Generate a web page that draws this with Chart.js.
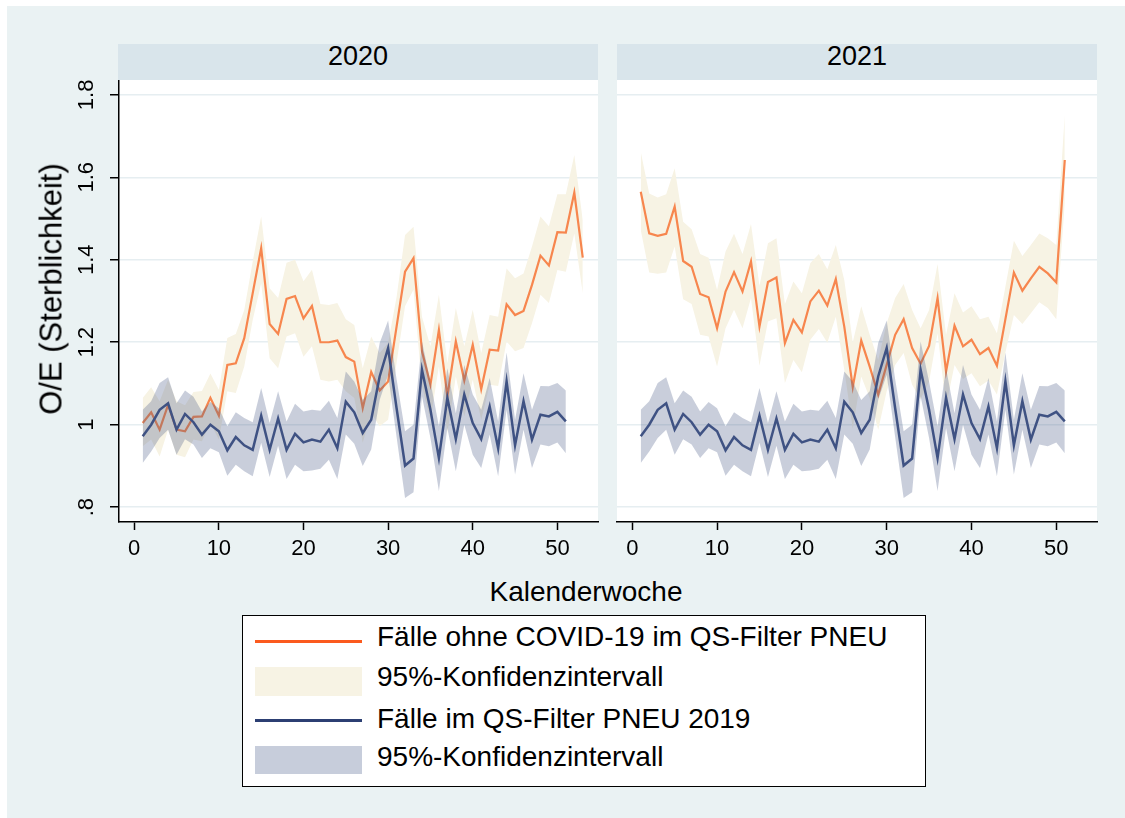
<!DOCTYPE html>
<html>
<head>
<meta charset="utf-8">
<script src="https://cdn.jsdelivr.net/npm/chart.js@4.4.0/dist/chart.umd.min.js"></script>
<style>
  html, body { margin: 0; padding: 0; background: #fff; }
  body { width: 1125px; height: 818px; position: relative; overflow: hidden;
         font-family: "Liberation Sans", Arial, sans-serif; color: #000; }
  #bg { position: absolute; left: 7px; top: 6px; right: 0; bottom: 0; background: #eaf2f3; }
  .strip { position: absolute; top: 44px; height: 36px; width: 480px; background: #d9e5eb; }
  .lbl { position: absolute; white-space: nowrap; line-height: 0; }
  .c { transform: translateX(-50%); }
  canvas.panel { position: absolute; top: 80px; }
  #legend { position: absolute; left: 242px; top: 615px; width: 684px; height: 172px;
            box-sizing: border-box; background: #fff; border: 1.5px solid #000; }
  .key { position: absolute; left: 255px; width: 107px; }
  .ytitle { position: absolute; white-space: nowrap; line-height: 1;
            transform: translate(-50%, -50%) rotate(-90deg); }
</style>
</head>
<body>
<div id="bg"></div>

<div class="strip" style="left:118px"></div>
<div class="strip" style="left:617px"></div>
<div class="lbl c" style="left:358px; top:56px; font-size:27px">2020</div>
<div class="lbl c" style="left:857px; top:56px; font-size:27px">2021</div>

<canvas id="p2020" class="panel" width="600" height="480" style="left:0px"></canvas>
<canvas id="p2021" class="panel" width="525" height="480" style="left:600px"></canvas>

<div class="ytitle" style="left:51px; top:289px; font-size:31px">O/E (Sterblichkeit)</div>
<div class="lbl c" style="left:586px; top:592px; font-size:28px">Kalenderwoche</div>

<div id="legend"></div>
<div class="key" style="top:640px; height:3px; background:#fb5a1e"></div>
<div class="key" style="top:667px; height:29px; background:#f7f3e4"></div>
<div class="key" style="top:719px; height:3px; background:#2c3f73"></div>
<div class="key" style="top:746px; height:28px; background:#c7cddb"></div>
<div class="lbl" style="left:377px; top:637px; font-size:28px">Fälle ohne COVID-19 im QS-Filter PNEU</div>
<div class="lbl" style="left:377px; top:677px; font-size:28px">95%-Konfidenzintervall</div>
<div class="lbl" style="left:377px; top:719px; font-size:28px">Fälle im QS-Filter PNEU 2019</div>
<div class="lbl" style="left:377px; top:757px; font-size:28px">95%-Konfidenzintervall</div>

<script>
// O/E per Kalenderwoche, Fälle ohne COVID-19, 2020 (KW 1-53)
const oe2020 = [1.004, 1.030, 0.988, 1.048, 0.988, 0.984, 1.019, 1.020, 1.065, 1.022,
  1.145, 1.149, 1.210, 1.319, 1.428, 1.244, 1.220, 1.305, 1.312, 1.258,
  1.288, 1.200, 1.200, 1.204, 1.164, 1.153, 1.040, 1.128, 1.083, 1.105,
  1.238, 1.371, 1.404, 1.178, 1.097, 1.230, 1.069, 1.202, 1.107, 1.194,
  1.086, 1.182, 1.180, 1.292, 1.266, 1.276, 1.339, 1.410, 1.386, 1.467,
  1.466, 1.563, 1.405];
const hi2020 = [1.065, 1.091, 1.057, 1.109, 1.057, 1.047, 1.079, 1.082, 1.124, 1.085,
  1.210, 1.220, 1.278, 1.396, 1.505, 1.331, 1.307, 1.393, 1.400, 1.348,
  1.376, 1.293, 1.290, 1.295, 1.256, 1.242, 1.137, 1.214, 1.174, 1.198,
  1.310, 1.460, 1.480, 1.262, 1.190, 1.315, 1.149, 1.283, 1.190, 1.279,
  1.174, 1.266, 1.262, 1.379, 1.355, 1.367, 1.432, 1.505, 1.481, 1.559,
  1.559, 1.654, 1.496];
const lo2020 = [0.948, 0.964, 0.923, 0.988, 0.927, 0.921, 0.964, 0.960, 1.004, 0.964,
  1.081, 1.077, 1.141, 1.254, 1.343, 1.161, 1.137, 1.214, 1.222, 1.165,
  1.190, 1.109, 1.105, 1.109, 1.081, 1.065, 0.956, 1.028, 0.996, 1.012,
  1.150, 1.287, 1.327, 1.093, 1.012, 1.141, 0.980, 1.117, 1.020, 1.109,
  1.012, 1.097, 1.094, 1.202, 1.178, 1.186, 1.246, 1.315, 1.295, 1.375,
  1.371, 1.464, 1.319];

// 2021 (KW 1-51)
const oe2021 = [1.565, 1.464, 1.458, 1.463, 1.529, 1.397, 1.383, 1.317, 1.309, 1.234,
  1.323, 1.370, 1.323, 1.396, 1.238, 1.346, 1.357, 1.198, 1.254, 1.224,
  1.299, 1.325, 1.289, 1.353, 1.238, 1.091, 1.204, 1.141, 1.073, 1.145,
  1.218, 1.256, 1.186, 1.148, 1.191, 1.307, 1.129, 1.240, 1.190, 1.206,
  1.171, 1.186, 1.143, 1.256, 1.369, 1.325, 1.355, 1.383, 1.367, 1.345,
  1.642];
const hi2021 = [1.662, 1.561, 1.551, 1.559, 1.622, 1.492, 1.474, 1.414, 1.405, 1.327,
  1.420, 1.463, 1.414, 1.487, 1.337, 1.440, 1.452, 1.293, 1.347, 1.319,
  1.392, 1.414, 1.377, 1.436, 1.351, 1.200, 1.287, 1.218, 1.157, 1.246,
  1.307, 1.341, 1.278, 1.234, 1.278, 1.390, 1.218, 1.319, 1.272, 1.287,
  1.256, 1.262, 1.222, 1.335, 1.446, 1.409, 1.436, 1.464, 1.452, 1.436,
  1.751];
const lo2021 = [1.472, 1.369, 1.366, 1.369, 1.432, 1.304, 1.293, 1.218, 1.214, 1.141,
  1.234, 1.279, 1.234, 1.307, 1.143, 1.250, 1.258, 1.101, 1.157, 1.127,
  1.206, 1.232, 1.199, 1.262, 1.133, 0.990, 1.117, 1.065, 0.988, 1.081,
  1.145, 1.174, 1.097, 1.062, 1.105, 1.222, 1.044, 1.145, 1.111, 1.125,
  1.093, 1.107, 1.073, 1.175, 1.266, 1.244, 1.270, 1.297, 1.283, 1.256,
  1.537];

// Vergleich: Fälle im QS-Filter PNEU 2019 (KW 1-51), in beiden Panels
const oe2019 = [0.972, 1.000, 1.036, 1.052, 0.988, 1.026, 1.006, 0.976, 1.000, 0.984,
  0.938, 0.970, 0.950, 0.939, 1.022, 0.939, 1.015, 0.939, 0.978, 0.957,
  0.964, 0.959, 0.988, 0.943, 1.056, 1.030, 0.980, 1.012, 1.117, 1.186,
  1.040, 0.901, 0.918, 1.133, 1.036, 0.919, 1.065, 0.965, 1.073, 1.004,
  0.965, 1.044, 0.943, 1.105, 0.950, 1.057, 0.964, 1.024, 1.020, 1.031,
  1.008];
const hi2019 = [1.036, 1.057, 1.101, 1.115, 1.052, 1.083, 1.068, 1.032, 1.055, 1.040,
  0.996, 1.030, 1.016, 1.006, 1.089, 1.004, 1.081, 1.008, 1.051, 1.032,
  1.036, 1.034, 1.058, 1.016, 1.129, 1.105, 1.060, 1.081, 1.198, 1.253,
  1.110, 0.984, 1.000, 1.202, 1.105, 0.996, 1.137, 1.028, 1.145, 1.073,
  1.036, 1.113, 1.008, 1.175, 1.012, 1.125, 1.036, 1.094, 1.093, 1.101,
  1.083];
const lo2019 = [0.907, 0.935, 0.968, 0.988, 0.927, 0.965, 0.952, 0.919, 0.943, 0.933,
  0.876, 0.903, 0.887, 0.875, 0.956, 0.873, 0.949, 0.868, 0.903, 0.887,
  0.889, 0.893, 0.915, 0.868, 0.976, 0.954, 0.900, 0.940, 1.060, 1.121,
  0.970, 0.822, 0.836, 1.069, 0.968, 0.839, 0.992, 0.887, 1.000, 0.927,
  0.895, 0.976, 0.875, 1.036, 0.879, 0.988, 0.895, 0.952, 0.948, 0.957,
  0.931];

const xTicks = [0, 10, 20, 30, 40, 50];
const yTicks = [0.8, 1.0, 1.2, 1.4, 1.6, 1.8];
const yTickLabels = ['.8', '1', '1.2', '1.4', '1.6', '1.8'];

const FONT = '"Liberation Sans", Arial, sans-serif';
const gridColor = '#e6eef1';

// week number = position in array + 1
const pts = vals => vals.map((v, i) => ({x: i + 1, y: v}));

// white plot region
const plotBg = {
  id: 'plotBg',
  beforeDraw(chart) {
    const {ctx, chartArea: a} = chart;
    ctx.save();
    ctx.fillStyle = '#fff';
    ctx.fillRect(a.left, a.top, a.right - a.left, a.bottom - a.top);
    ctx.restore();
  }
};

// vertical tick labels on the left axis (Stata style)
const yTickText = {
  id: 'yTickText',
  afterDraw(chart) {
    const {ctx} = chart;
    const y = chart.scales.y;
    ctx.save();
    ctx.font = '22px ' + FONT;
    ctx.fillStyle = '#000';
    ctx.textAlign = 'center';
    ctx.textBaseline = 'alphabetic';
    yTicks.forEach((v, i) => {
      ctx.save();
      ctx.translate(93, y.getPixelForValue(v));
      ctx.rotate(-Math.PI / 2);
      ctx.fillText(yTickLabels[i], 0, 0);
      ctx.restore();
    });
    ctx.restore();
  }
};

function makePanel(id, oe, hi, lo, first) {
  const datasets = [
    // listed top-most first: Chart.js paints index 0 last
    {data: pts(oe2019), borderColor: '#3f5283', borderWidth: 2.5},
    {data: pts(hi2019), borderWidth: 0, fill: '+1', backgroundColor: 'rgba(68,87,130,0.29)'},
    {data: pts(lo2019), borderWidth: 0, fill: false},
    {data: pts(oe), borderColor: '#f7864e', borderWidth: 2.2},
    {data: pts(hi), borderWidth: 0, fill: '+1', backgroundColor: '#f7f3e4'},
    {data: pts(lo), borderWidth: 0, fill: false}
  ];
  datasets.forEach(d => { d.pointRadius = 0; d.tension = 0; });

  return new Chart(document.getElementById(id), {
    type: 'line',
    data: {datasets},
    options: {
      responsive: false,
      animation: false,
      layout: {padding: {left: 0, top: 0, bottom: 0, right: first ? 2 : 28}},
      plugins: {legend: {display: false}, tooltip: {enabled: false}},
      scales: {
        x: {
          type: 'linear', min: -1.8, max: 54.8,
          afterBuildTicks: s => { s.ticks = xTicks.map(v => ({value: v})); },
          afterFit: s => { s.height = 38; },
          ticks: {color: '#000', font: {family: FONT, size: 22}, padding: 6, maxRotation: 0},
          grid: {drawOnChartArea: false, drawTicks: true, tickLength: 8, tickColor: '#000', tickWidth: 1.5},
          border: {display: true, color: '#000', width: 1.5}
        },
        y: {
          type: 'linear', min: 0.764, max: 1.836,
          afterBuildTicks: s => { s.ticks = yTicks.map(v => ({value: v})); },
          afterFit: s => { s.width = first ? 119 : 17; },
          ticks: {display: false},
          grid: {color: gridColor, lineWidth: 1.5, drawTicks: first, tickLength: 9,
                 tickColor: '#000', tickWidth: 1.5},
          border: {display: first, color: '#000', width: 1.5}
        }
      }
    },
    plugins: first ? [plotBg, yTickText] : [plotBg]
  });
}

makePanel('p2020', oe2020, hi2020, lo2020, true);
makePanel('p2021', oe2021, hi2021, lo2021, false);
</script>
</body>
</html>
